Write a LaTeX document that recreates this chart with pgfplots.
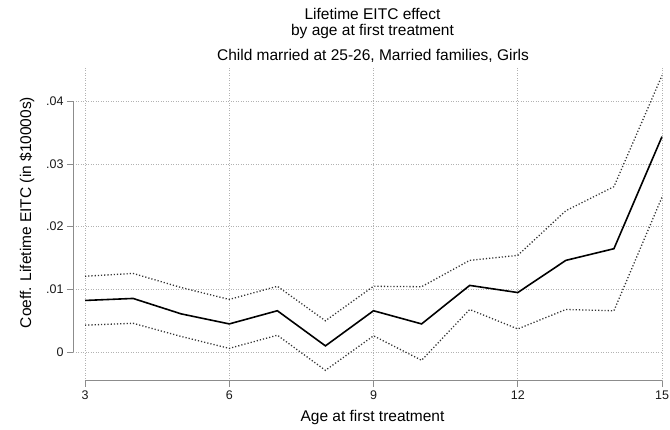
\documentclass[border=0pt]{standalone}
\usepackage{fontspec}
\setmainfont{Liberation Sans}
\usepackage{pgfplots}
\pgfplotsset{compat=1.18}
\pgfplotstableread{
x est up lo
3 0.00824 0.01210 0.00430
4 0.00856 0.01255 0.00460
5 0.00610 0.01030 0.00250
6 0.00450 0.00840 0.00060
7 0.00660 0.01050 0.00270
8 0.00100 0.00500 -0.00290
9 0.00660 0.01050 0.00260
10 0.00450 0.01043 -0.00130
11 0.01064 0.01463 0.00680
12 0.00950 0.01543 0.00370
13 0.01463 0.02255 0.00680
14 0.01649 0.02638 0.00660
15 0.03436 0.04410 0.02470
}\datatable
\begin{document}
\begin{tikzpicture}[x=1bp,y=1bp]
\useasboundingbox (0bp,0bp) rectangle (670bp,430bp);
\begin{axis}[
  at={(73bp,49bp)}, anchor=south west, scale only axis,
  width=589bp, height=313bp,
  xmin=2.75, xmax=15, ymin=-0.0046, ymax=0.0453,
  axis x line*=bottom, axis y line*=left,
  axis line style={draw=none},
  xtick={3,6,9,12,15}, xticklabels={3,6,9,12,15},
  ytick={0,0.01,0.02,0.03,0.04}, yticklabels={0,.01,.02,.03,.04},
  scaled y ticks=false,
  tick align=outside, major tick length=6bp,
  tick style={color=black!45, line width=0.8bp},
  ticklabel style={font=\fontsize{12.5bp}{14bp}\selectfont, text=black!90},
  grid=major,
  major grid style={black!30, line width=0.6bp, dash pattern=on 0.8bp off 1.7bp},
  clip=false,
]
\draw[black!45, line width=1bp] (axis cs:3,-0.0046) -- (axis cs:15,-0.0046);
\draw[black!45, line width=1bp] (axis cs:2.75,0) -- (axis cs:2.75,0.04);
\addplot[black!80, line width=1.3bp, dash pattern=on 1.2bp off 2bp] table[x=x,y=up] {\datatable};
\addplot[black!80, line width=1.3bp, dash pattern=on 1.2bp off 2bp] table[x=x,y=lo] {\datatable};
\addplot[black, line width=1.6bp] table[x=x,y=est] {\datatable};
\end{axis}
\begin{scope}[font=\fontsize{15.5bp}{18bp}\selectfont]
\node[anchor=base] at (372.5bp,410.3bp) {Lifetime EITC effect};
\node[anchor=base] at (372.5bp,394.7bp) {by age at first treatment};
\node[anchor=base] at (373bp,369bp) {Child married at 25-26, Married families, Girls};
\node[anchor=base] at (372.5bp,8.5bp) {Age at first treatment};
\node[rotate=90, anchor=base] at (31bp,217.5bp) {Coeff. Lifetime EITC (in \$10000s)};
\end{scope}
\end{tikzpicture}
\end{document}
